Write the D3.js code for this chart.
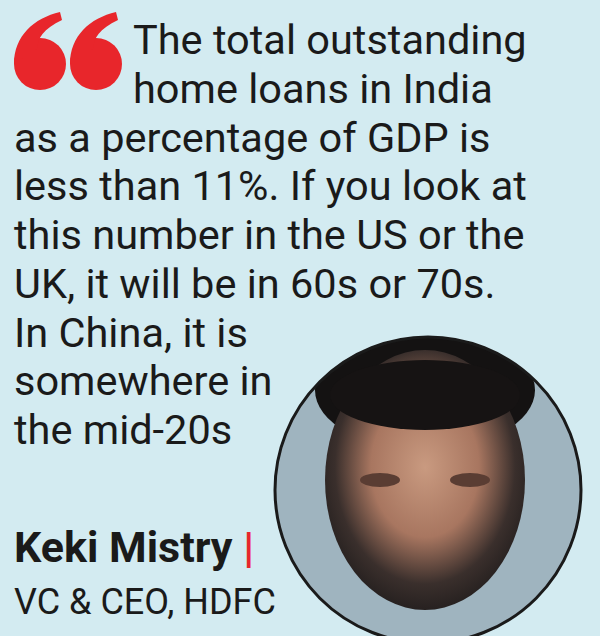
<!DOCTYPE html>
<html><head><meta charset="utf-8">
<script src="https://cdn.jsdelivr.net/npm/d3@7"></script>
<style>body{margin:0}svg{display:block}</style></head>
<body><script>
const quoteLines = ["The total outstanding","home loans in India","as a percentage of GDP is","less than 11%. If you look at","this number in the US or the","UK, it will be in 60s or 70s.","In China, it is","somewhere in","the mid-20s"];
const lineX = [133,133,14,14,14,14,14,14,14];
const speaker = "Keki Mistry";
const title = "VC & CEO, HDFC";
const W=600,H=636;
const svg=d3.select("body").append("svg").attr("width",W).attr("height",H);
svg.append("rect").attr("width",W).attr("height",H).attr("fill","#d3ebf1");
const y=d3.scaleLinear().domain([0,8]).range([54,444]);
const q=svg.append("g").attr("fill","#e8262b");
[40,96].forEach(cx=>{
  q.append("circle").attr("cx",cx).attr("cy",64).attr("r",26);
  q.append("path").attr("d",`M${cx-26},64 C${cx-26},36 ${cx-6},18 ${cx+20},12 L${cx+22},20 C${cx+4},28 ${cx-4},40 ${cx-2},48 Z`);
});
const f="'Roboto',sans-serif";
svg.selectAll("text.q").data(quoteLines).join("text").attr("class","q")
 .attr("x",(d,i)=>lineX[i]).attr("y",(d,i)=>y(i)).attr("font-family",f)
 .attr("font-size",41.5).attr("fill","#1a1a1a").text(d=>d);
const defs=svg.append("defs");
const g=defs.append("radialGradient").attr("id","pg").attr("cx","50%").attr("cy","45%").attr("r","60%");
g.append("stop").attr("offset","0%").attr("stop-color","#c99a80");
g.append("stop").attr("offset","45%").attr("stop-color","#a87660");
g.append("stop").attr("offset","75%").attr("stop-color","#3a2f2c");
g.append("stop").attr("offset","100%").attr("stop-color","#1d1a1a");
defs.append("clipPath").attr("id","cc").append("circle").attr("cx",428).attr("cy",490).attr("r",153);
const p=svg.append("g").attr("clip-path","url(#cc)");
p.append("rect").attr("x",270).attr("y",330).attr("width",320).attr("height",320).attr("fill","#9fb4bf");
p.append("ellipse").attr("cx",425).attr("cy",390).attr("rx",110).attr("ry",60).attr("fill","#141212");
p.append("ellipse").attr("cx",425).attr("cy",480).attr("rx",100).attr("ry",130).attr("fill","url(#pg)");
p.append("ellipse").attr("cx",425).attr("cy",395).attr("rx",95).attr("ry",35).attr("fill","#161313");
p.append("ellipse").attr("cx",380).attr("cy",480).attr("rx",20).attr("ry",7).attr("fill","#5a3d33");
p.append("ellipse").attr("cx",470).attr("cy",480).attr("rx",20).attr("ry",7).attr("fill","#5a3d33");
svg.append("circle").attr("cx",428).attr("cy",490).attr("r",153).attr("fill","none").attr("stroke","#1a1a1a").attr("stroke-width",3);
const s=svg.append("text").attr("x",14).attr("y",562).attr("font-family",f).attr("font-size",43).attr("font-weight","bold").attr("fill","#1a1a1a");
s.append("tspan").text(speaker+" ");
s.append("tspan").attr("fill","#e8262b").text("|");
svg.append("text").attr("x",14).attr("y",614).attr("font-family",f).attr("font-size",36).attr("fill","#1a1a1a").text(title);
</script></body></html>
